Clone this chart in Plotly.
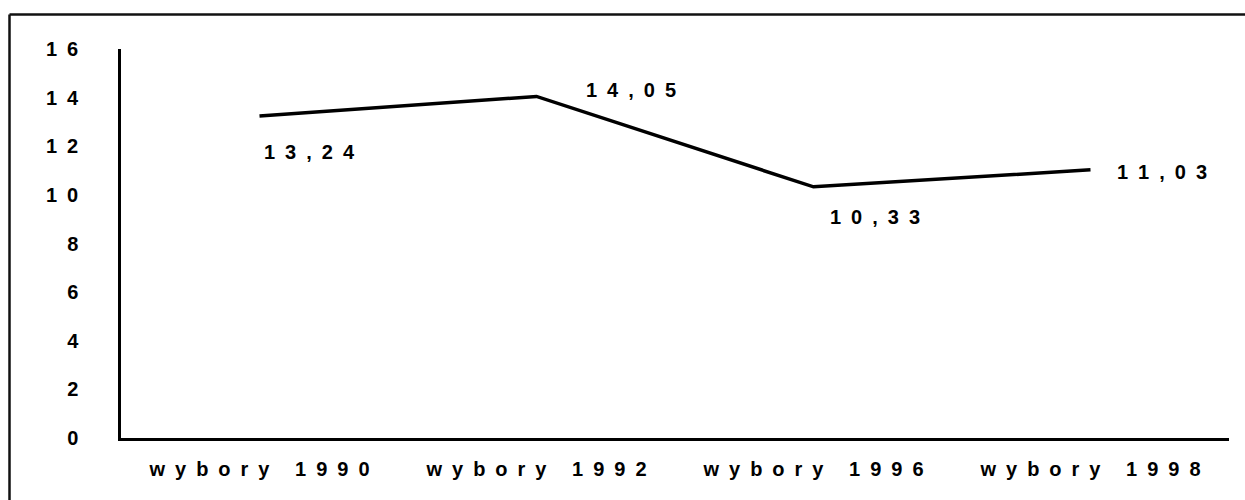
import plotly.graph_objects as go

categories = ["wybory 1990", "wybory 1992", "wybory 1996", "wybory 1998"]
values = [13.24, 14.05, 10.33, 11.03]
value_labels = ["13,24", "14,05", "10,33", "11,03"]
y_tick_vals = [0, 2, 4, 6, 8, 10, 12, 14, 16]
y_tick_labels = ["0", "2", "4", "6", "8", "10", "12", "14", "16"]

SP = "\u2002"


def spaced(s):
    return SP.join(list(s))


FONT = dict(family="Liberation Sans, Arial, sans-serif", size=20, color="black", weight="bold")

fig = go.Figure()
fig.add_trace(go.Scatter(
    x=categories, y=values, mode="lines",
    line=dict(color="black", width=3.5),
    hoverinfo="skip", showlegend=False,
))

# label offsets (px) per point
offsets = [(2, -36), (47, 6), (14, -30), (24, -2)]
for cat, val, lab, (dx, dy) in zip(categories, values, value_labels, offsets):
    fig.add_annotation(
        x=cat, y=val, text=spaced(lab), showarrow=False,
        xanchor="left", yanchor="middle", xshift=dx, yshift=dy,
        font=FONT,
    )

W, H = 1245, 500
L, R, T, B = 121, 16, 49, 62
pw, ph = W - L - R, H - T - B


def px_x(x):
    return (x - L) / pw


def px_y(y):
    return (H - B - y) / ph


fig.update_layout(
    width=W, height=H,
    margin=dict(l=L, r=R, t=T, b=B),
    paper_bgcolor="white", plot_bgcolor="white",
    font=FONT,
    showlegend=False,
    xaxis=dict(
        type="category",
        tickvals=categories,
        ticktext=[spaced(c) for c in categories],
        showline=True, linecolor="black", linewidth=2.5,
        showgrid=False, zeroline=False, ticks="",
        ticklabelstandoff=11,
        range=[-0.5, 3.5],
        tickfont=FONT,
    ),
    yaxis=dict(
        range=[0, 16],
        tickvals=y_tick_vals,
        ticktext=[spaced(t) for t in y_tick_labels],
        showline=True, linecolor="black", linewidth=2.5,
        showgrid=False, zeroline=False, ticks="",
        ticklabelstandoff=36,
        tickfont=FONT,
    ),
    shapes=[
        dict(type="line", xref="paper", yref="paper",
             x0=px_x(9.5), x1=px_x(9.5), y0=px_y(14.5), y1=px_y(500),
             line=dict(color="#111", width=2.5)),
        dict(type="line", xref="paper", yref="paper",
             x0=px_x(9.5), x1=px_x(1245), y0=px_y(14.5), y1=px_y(14.5),
             line=dict(color="#111", width=2.5)),
    ],
)

fig.write_html(
    "out.html",
    config={"displayModeBar": False},
    post_script="document.body.style.margin='0';document.body.style.overflow='hidden';",
)
